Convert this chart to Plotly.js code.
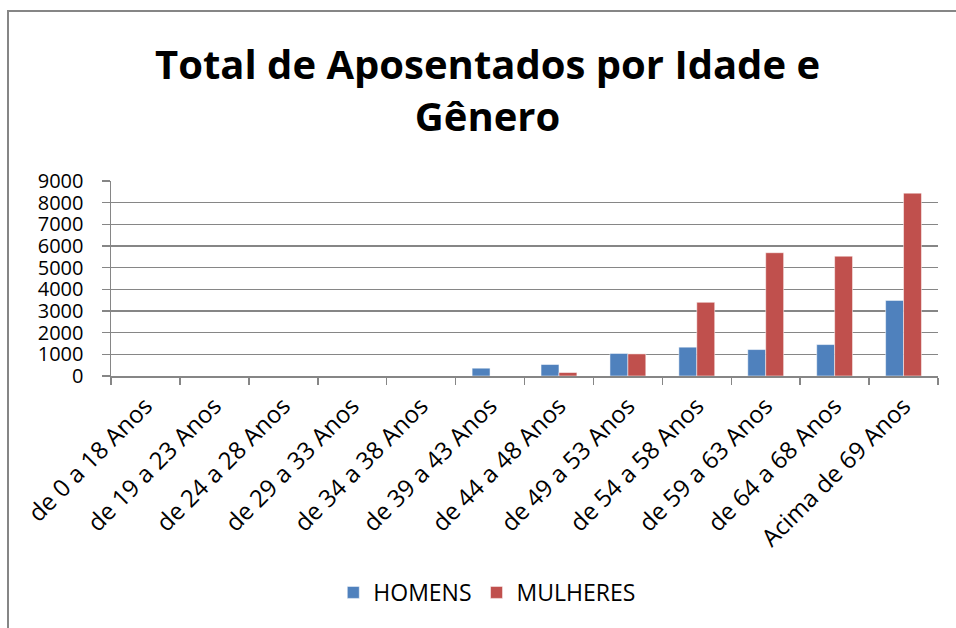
<!DOCTYPE html>
<html>
<head>
<meta charset="utf-8">
<script src="https://cdn.plot.ly/plotly-3.0.1.min.js"></script>
<style>
  html, body { margin: 0; padding: 0; background: #ffffff; }
  #wrap { position: relative; width: 956px; height: 628px; }
  #chart { position: absolute; left: 0; top: 0; width: 956px; height: 628px; }
  #frame { position: absolute; left: 7px; top: 10px; width: 949px; height: 618px;
           border-left: 2px solid #868686; border-top: 2px solid #868686; box-sizing: border-box; pointer-events: none; }
</style>
</head>
<body>
<div id="wrap">
  <div id="chart"></div>
  <div id="frame"></div>
</div>
<script>
const categories = [
  "de 0 a 18 Anos", "de 19 a 23 Anos", "de 24 a 28 Anos", "de 29 a 33 Anos",
  "de 34 a 38 Anos", "de 39 a 43 Anos", "de 44 a 48 Anos", "de 49 a 53 Anos",
  "de 54 a 58 Anos", "de 59 a 63 Anos", "de 64 a 68 Anos", "Acima de 69 Anos"
];
const homens   = [0, 0, 0, 0, 0, 360, 530, 1040, 1330, 1220, 1450, 3490];
const mulheres = [0, 0, 0, 0, 0, 0, 160, 1020, 3400, 5690, 5530, 8440];
const yTicks = [0, 1000, 2000, 3000, 4000, 5000, 6000, 7000, 8000, 9000];

const FONT = "Open Sans, Noto Sans, sans-serif";

const traces = [
  { type: "bar", name: "HOMENS", x: categories, y: homens,
    marker: { color: "#4F81BD", line: { color: "rgba(255,255,255,0.5)", width: 1 } } },
  { type: "bar", name: "MULHERES", x: categories, y: mulheres,
    marker: { color: "#C0504D", line: { color: "rgba(255,255,255,0.5)", width: 1 } } }
];

const layout = {
  width: 956, height: 628,
  margin: { l: 111, r: 18, t: 181, b: 252 },
  paper_bgcolor: "#ffffff", plot_bgcolor: "#ffffff",
  font: { family: FONT, color: "#000000", size: 22 },
  title: {
    text: "<b>Total de Aposentados por Idade e<br>Gênero</b>",
    font: { family: FONT, size: 40, color: "#000000" },
    x: 0.51, xanchor: "center",
    y: 0.875, yanchor: "top", yref: "container"
  },
  barmode: "group", bargap: 0.48, bargroupgap: 0,
  xaxis: {
    type: "category",
    tickangle: -45,
    ticks: "outside", tickson: "boundaries", ticklen: 7, tickwidth: 1.5, tickcolor: "#868686",
    showline: true, linecolor: "#868686", linewidth: 1.5,
    showgrid: false,
    ticklabelstandoff: 5,
    tickfont: { family: FONT, size: 24, color: "#000000" }
  },
  yaxis: {
    range: [0, 9000], tickvals: yTicks, ticktext: yTicks.map(String),
    ticks: "outside", ticklen: 8, tickwidth: 1.5, tickcolor: "#868686",
    showline: true, linecolor: "#868686", linewidth: 1.5,
    showgrid: true, gridcolor: "#868686", gridwidth: 1.5,
    zeroline: false,
    ticklabelstandoff: 14,
    tickfont: { family: FONT, size: 20, color: "#000000" }
  },
  legend: {
    orientation: "h", x: 0.455, xanchor: "center", y: -1.11, yanchor: "middle",
    font: { family: FONT, size: 23, color: "#000000" },
    traceorder: "normal", itemwidth: 30
  },
  showlegend: true
};

Plotly.newPlot("chart", traces, layout, { displayModeBar: false, staticPlot: true });
</script>
</body>
</html>
